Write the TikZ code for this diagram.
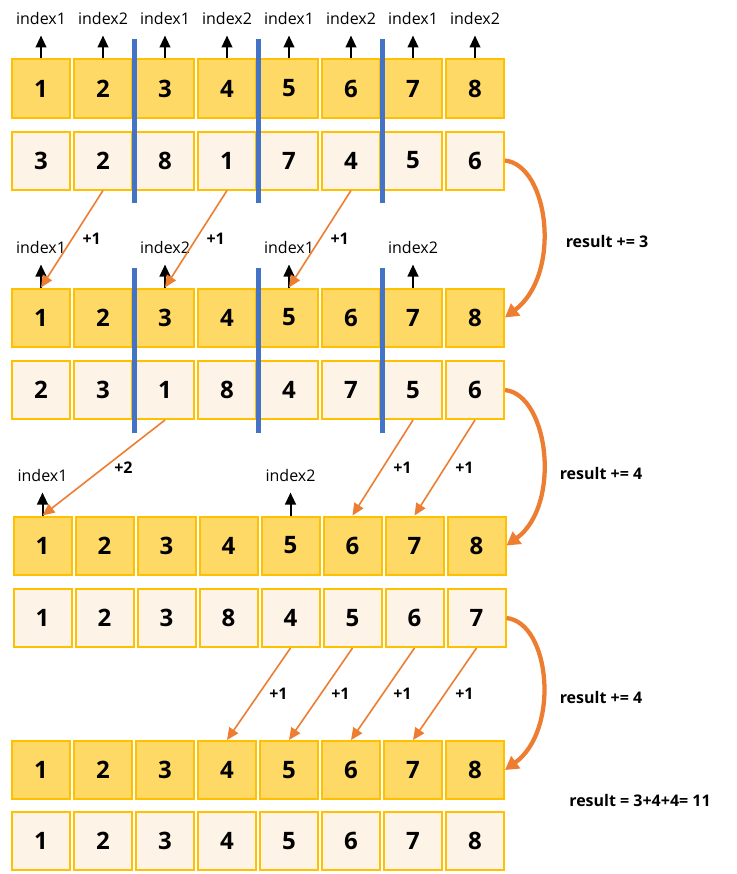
\documentclass[tikz,border=0pt]{standalone}
\usepackage{fontspec}
\setmainfont{Open Sans}
\usetikzlibrary{arrows.meta,positioning}

\definecolor{cellgold}{HTML}{FFD966}
\definecolor{cellline}{HTML}{FFC000}
\definecolor{cellpale}{HTML}{FEF3E7}
\definecolor{moveorange}{HTML}{ED7D31}
\definecolor{splitblue}{HTML}{4472C4}

\begin{document}
\begin{tikzpicture}[x=0.75pt, y=-0.75pt, node distance=25.5pt]
    % Styles
    \tikzstyle{sorted} = [rectangle, draw=cellline, line width=1.5pt, fill=cellgold, minimum width=43.5pt, minimum height=43.5pt, inner sep=0pt, font=\fontsize{18}{20}\selectfont\bfseries]
    \tikzstyle{unsorted} = [sorted, fill=cellpale]
    \tikzstyle{idx} = [inner sep=0pt, font=\fontsize{12}{14}\selectfont]
    \tikzstyle{gain} = [text=black, font=\fontsize{12}{14}\selectfont\bfseries]
    \tikzstyle{pointer} = [-{Triangle[length=9pt, width=8pt]}, line width=1.5pt, shorten >=8.25pt]
    \tikzstyle{move} = [-{Triangle[length=9pt, width=8pt]}, line width=1.2pt, moveorange]
    \tikzstyle{total} = [-{Triangle[length=10pt, width=11pt]}, line width=3.2pt, moveorange]
    \tikzstyle{split} = [line width=3.75pt, splitblue]

    \useasboundingbox (0,0) rectangle (736,874);

    % Nodes
    \foreach \v [count=\c] in {1,2,3,4,5,6,7,8}
        \node[sorted] (A\c) at ({41+62*(\c-1)}, 88.5) {\v};
    \foreach \v [count=\c] in {3,2,8,1,7,4,5,6}
        \node[unsorted] (B\c) at ({41+62*(\c-1)}, 160.5) {\v};
    \foreach \v [count=\c] in {1,2,3,4,5,6,7,8}
        \node[sorted] (C\c) at ({41+62*(\c-1)}, 317.5) {\v};
    \foreach \v [count=\c] in {2,3,1,8,4,7,5,6}
        \node[unsorted] (D\c) at ({41+62*(\c-1)}, 390) {\v};
    \foreach \v [count=\c] in {1,2,3,4,5,6,7,8}
        \node[sorted] (E\c) at ({42.5+62*(\c-1)}, 545.5) {\v};
    \foreach \v [count=\c] in {1,2,3,8,4,5,6,7}
        \node[unsorted] (F\c) at ({42.5+62*(\c-1)}, 618) {\v};
    \foreach \v [count=\c] in {1,2,3,4,5,6,7,8}
        \node[sorted] (G\c) at ({41+62*(\c-1)}, 770) {\v};
    \foreach \v [count=\c] in {1,2,3,4,5,6,7,8}
        \node[unsorted] (H\c) at ({41+62*(\c-1)}, 841) {\v};

    % Split lines
    \foreach \x in {134,258,382} {
        \draw[split] (\x,39) -- (\x,203);
        \draw[split] (\x,268) -- (\x,433);
    }

    % Pointers
    \foreach \c/\t in {1/index1,2/index2,3/index1,4/index2,5/index1,6/index2,7/index1,8/index2} {
        \node[idx, above=of A\c] (pA\c) {\t};
        \draw[pointer] (A\c.north) -- (pA\c.south);
    }
    \foreach \c/\t in {1/index1,3/index2,5/index1,7/index2} {
        \node[idx, above=of C\c] (pC\c) {\t};
        \draw[pointer] (C\c.north) -- (pC\c.south);
    }
    \foreach \c/\t in {1/index1,5/index2} {
        \node[idx, above=of E\c] (pE\c) {\t};
        \draw[pointer] (E\c.north) -- (pE\c.south);
    }

    % Moves
    \draw[move] (B2.south) -- node[gain, right=4pt] {+1} (C1.north);
    \draw[move] (B4.south) -- node[gain, right=4pt] {+1} (C3.north);
    \draw[move] (B6.south) -- node[gain, right=4pt] {+1} (C5.north);

    \draw[move] (D3.south) -- node[gain, right=4pt] {+2} (E1.north);
    \draw[move] (D7.south) -- node[gain, right=4pt] {+1} (E6.north);
    \draw[move] (D8.south) -- node[gain, right=4pt] {+1} (E7.north);

    \draw[move] (F5.south) -- node[gain, right=4pt] {+1} (G4.north);
    \draw[move] (F6.south) -- node[gain, right=4pt] {+1} (G5.north);
    \draw[move] (F7.south) -- node[gain, right=4pt] {+1} (G6.north);
    \draw[move] (F8.south) -- node[gain, right=4pt] {+1} (G7.north);

    % Totals
    \draw[total] (B8.east) .. controls +(44,5) and +(57,-43) .. (C8.east);
    \draw[total] (D8.east) .. controls +(44,5) and +(55,-40) .. (E8.east);
    \draw[total] (F8.east) .. controls +(44,5) and +(55,-40) .. (G8.east);

    \node[gain] (r1) at (607,241) {result += 3};
    \node[gain] (r2) at (601,473) {result += 4};
    \node[gain] (r3) at (601,697) {result += 4};
    \node[gain] (r4) at (640,800) {result = 3+4+4= 11};

\end{tikzpicture}
\end{document}
